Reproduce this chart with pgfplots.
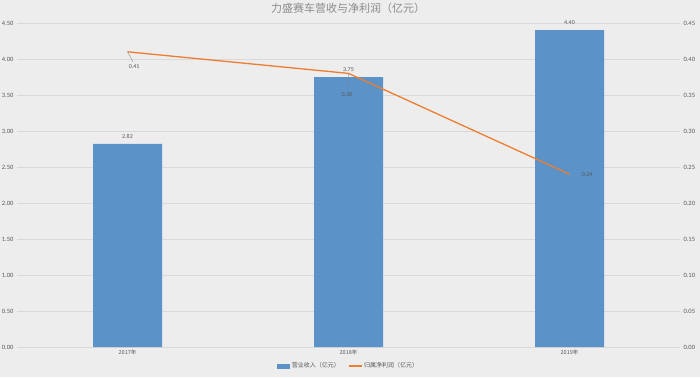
\documentclass[border=0pt]{standalone}
\usepackage{pgfplots}
\pgfplotsset{compat=1.18}
\usepackage{fontspec}
\setmainfont{Carlito}
\newfontfamily\cjk{Noto Sans CJK SC}
\definecolor{bg}{RGB}{237,237,237}
\definecolor{barblue}{RGB}{91,146,200}
\definecolor{lineor}{RGB}{237,125,49}
\definecolor{gridc}{RGB}{217,217,217}
\definecolor{txt}{RGB}{89,89,89}
\definecolor{ttl}{RGB}{140,140,140}
\begin{document}
\begin{tikzpicture}[x=1pt,y=1pt]
\fill[bg] (0,0) rectangle (700,377);
\node[font=\cjk\fontsize{11}{11}\selectfont, text=ttl] at (348,369) {力盛赛车营收与净利润（亿元）};
\begin{axis}[at={(17pt,30pt)}, anchor=south west, scale only axis,
  width=663pt, height=324pt,
  xmin=-0.5, xmax=2.5, ymin=0, ymax=4.5,
  xtick={0,1,2}, xticklabels={2017年,2018年,2019年},
  xticklabel style={font=\cjk\fontsize{5.5}{6}\selectfont, text=txt, yshift=1pt},
  ytick={0,0.5,1,1.5,2,2.5,3,3.5,4,4.5},
  yticklabel style={font=\fontsize{6.5}{7}\selectfont, text=txt, /pgf/number format/.cd, fixed, fixed zerofill, precision=2, assume math mode=true},
  axis line style={draw=none},
  major tick length=0pt,
  ymajorgrids, grid style={gridc, line width=0.6pt},
  legend style={at={(0.5,-0.059)}, anchor=center, draw=none, fill=none,
    legend columns=2, font=\cjk\fontsize{6}{6}\selectfont, text=txt,
    /tikz/every even column/.append style={column sep=6pt}},
  clip=false,
]
\addplot[fill=barblue, draw=none, ybar, bar width=69pt,
  nodes near coords, nodes near coords style={font=\fontsize{6}{6}\selectfont, text=txt, yshift=2pt, /pgf/number format/.cd, fixed, fixed zerofill, precision=2, assume math mode=true},
  legend image code/.code={\fill[barblue] (0pt,-2.5pt) rectangle (13pt,2.5pt);}]
  coordinates {(0,2.82) (1,3.75) (2,4.40)};
\addlegendentry{营业收入（亿元）}
\addlegendimage{legend image code/.code={\draw[lineor, line width=1.3pt] (0pt,0pt) -- (13pt,0pt);}}
\addlegendentry{归属净利润（亿元）}
\end{axis}
\begin{axis}[at={(17pt,30pt)}, anchor=south west, scale only axis,
  width=663pt, height=324pt,
  xmin=-0.5, xmax=2.5, ymin=0, ymax=0.45,
  axis x line=none, axis y line*=right,
  axis line style={draw=none},
  major tick length=0pt,
  ytick={0,0.05,0.1,0.15,0.2,0.25,0.3,0.35,0.4,0.45},
  yticklabel style={font=\fontsize{6.5}{7}\selectfont, text=txt, /pgf/number format/.cd, fixed, fixed zerofill, precision=2, assume math mode=true},
  clip=false,
]
\addplot[lineor, line width=1.3pt, no marks] coordinates {(0,0.41) (1,0.38) (2,0.24)};
\draw[gray, line width=0.3pt] (axis cs:0,0.41) -- (axis cs:0.025,0.396);
\node[font=\fontsize{6}{6}\selectfont, text=txt] at (axis cs:0.03,0.389) {0.41};
\draw[gray, line width=0.3pt] (axis cs:1,0.38) -- (axis cs:0.995,0.361);
\node[font=\fontsize{6}{6}\selectfont, text=txt] at (axis cs:0.993,0.351) {0.38};
\node[font=\fontsize{6}{6}\selectfont, text=txt, anchor=west] at (axis cs:2.04,0.24) {0.24};
\end{axis}
\pgfresetboundingbox
\useasboundingbox (0,0) rectangle (700,377);
\end{tikzpicture}
\end{document}
